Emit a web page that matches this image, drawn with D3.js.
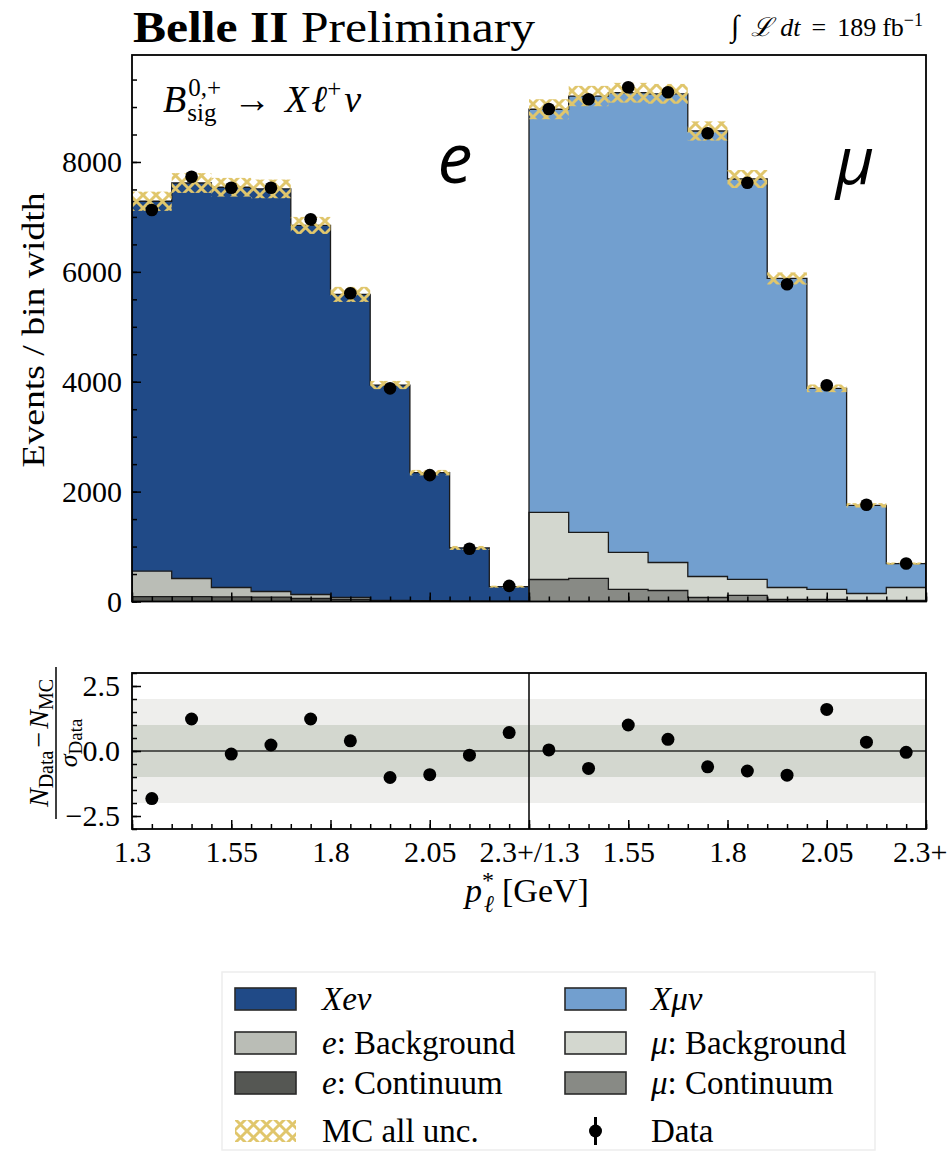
<!DOCTYPE html>
<html><head><meta charset="utf-8">
<script src="https://cdn.jsdelivr.net/npm/d3@7"></script>
<style>
body{margin:0;background:#fff;}
svg{display:block;}
text{font-family:"Liberation Serif",serif;fill:#000;}
</style></head><body>
<svg id="chart" width="948" height="1153" font-family="Liberation Serif, serif"></svg>
<script>
// ---------------- data ----------------
const pMin = 1.3, binWidth = 0.1;
const binLowEdges = [1.3, 1.4, 1.5, 1.6, 1.7, 1.8, 1.9, 2.0, 2.1, 2.2];

const eContinuum  = [90, 88, 85, 80, 55, 40, 10, 6, 3, 1];
const eBackground = [462, 331, 170, 102, 72, 33, 12, 8, 4, 2];
const eSignal     = [6733, 7198, 7285, 7328, 6718, 5517, 3918, 2331, 968, 267];
const eUnc        = [175, 180, 170, 170, 155, 137, 75, 50, 36, 18];
const eData       = [7126, 7730, 7530, 7530, 6957, 5610, 3880, 2300, 960, 285];
const ePull       = [-1.83, 1.23, -0.12, 0.23, 1.23, 0.39, -1.02, -0.91, -0.16, 0.71];

const muContinuum  = [400, 420, 220, 200, 73, 110, 36, 36, 18, 18];
const muBackground = [1221, 837, 673, 510, 382, 291, 219, 183, 128, 237];
const muSignal     = [7339, 7943, 8367, 8530, 8109, 7289, 5625, 3661, 1604, 435];
const muUnc        = [182, 185, 180, 180, 175, 164, 110, 70, 40, 20];
const muData       = [8965, 9141, 9360, 9268, 8522, 7623, 5775, 3935, 1760, 692];
const muPull       = [0.04, -0.67, 1.0, 0.45, -0.61, -0.77, -0.93, 1.6, 0.34, -0.05];

const yMajorTicks = [0, 2000, 4000, 6000, 8000];
const yMinorTicks = d3.range(0, 9501, 500);
const pullMajorTicks = [-2.5, 0, 2.5];
const pullMinorTicks = d3.range(-3, 3.01, 0.5);
const xMajorTicks = [0, 2.5, 5, 7.5, 10, 12.5, 15, 17.5, 20];   // in bin units
const xTickLabels = ["1.3", "1.55", "1.8", "2.05", "2.3+/1.3", "1.55", "1.8", "2.05", "2.3+"];
const xMinorTicks = d3.range(0, 20.01, 0.5);

const colors = {
  eCont: "#555753", eBkg: "#babdb6", eSig: "#204a87",
  muCont: "#888a85", muBkg: "#d3d7cf", muSig: "#729fcf",
  hatch: "#e0c66c", band1: "#d3d7cf", band2: "#eeeeec"
};

// ---------------- layout ----------------
const SERIF = '"Liberation Serif", serif';
const L = 132, R = 926, T = 55, B = 601.5;
const RT = 673, RB = 829;
const nBins = binLowEdges.length;

const svg = d3.select("#chart");
const xs = d3.scaleLinear().domain([0, 2 * nBins]).range([L, R]);
const ys = d3.scaleLinear().domain([0, 9947]).range([B, T]);
const yr = d3.scaleLinear().domain([-3, 3]).range([RB, RT]);

const defs = svg.append("defs");
const pat = defs.append("pattern").attr("id", "hatch")
  .attr("patternUnits", "userSpaceOnUse").attr("width", 13).attr("height", 13);
pat.append("path").attr("d", "M0,0L13,13M13,0L0,13")
  .attr("stroke", colors.hatch).attr("stroke-width", 2.9).attr("stroke-linecap", "square");
defs.append("clipPath").attr("id", "mainClip").append("rect")
  .attr("x", L).attr("y", T).attr("width", R - L).attr("height", B - T);

const channels = [
  { layers: [eContinuum, eBackground, eSignal], fills: [colors.eCont, colors.eBkg, colors.eSig],
    unc: eUnc, data: eData, pull: ePull },
  { layers: [muContinuum, muBackground, muSignal], fills: [colors.muCont, colors.muBkg, colors.muSig],
    unc: muUnc, data: muData, pull: muPull }
];

const binU = (h, i) => h * nBins + Math.round((binLowEdges[i] - pMin) / binWidth);

const gMain = svg.append("g").attr("clip-path", "url(#mainClip)");

function stepTop(h, vals) {
  let d = "";
  vals.forEach((v, i) => {
    d += (i === 0 ? `M${xs(binU(h, i))},${ys(v)}` : `V${ys(v)}`) + `H${xs(binU(h, i) + 1)}`;
  });
  return d;
}
function stepBottomReverse(h, vals) {
  let d = "";
  for (let i = vals.length - 1; i >= 0; i--) {
    d += `V${ys(vals[i])}H${xs(binU(h, i))}`;
  }
  return d;
}

channels.forEach((ch, h) => {
  let cum = binLowEdges.map(() => 0);
  const stacks = ch.layers.map(vals => {
    const lo = cum.slice();
    cum = cum.map((c, i) => c + vals[i]);
    return { lo, hi: cum.slice() };
  });
  const total = cum;
  stacks.forEach((s, k) => {
    gMain.append("path").attr("d", stepTop(h, s.hi) + stepBottomReverse(h, s.lo) + "Z")
      .attr("fill", ch.fills[k]).attr("stroke", "none");
  });
  stacks.forEach(s => {
    const d = `M${xs(binU(h, 0))},${ys(0)}` + stepTop(h, s.hi).replace(/^M[^,]+,/, "V") + `V${ys(0)}`;
    gMain.append("path").attr("d", d).attr("fill", "none")
      .attr("stroke", "#1a1a1a").attr("stroke-width", 1.3);
  });
  gMain.append("g").selectAll("rect").data(binLowEdges).join("rect")
    .attr("x", (d, i) => xs(binU(h, i)))
    .attr("width", (d, i) => xs(binU(h, i) + 1) - xs(binU(h, i)))
    .attr("y", (d, i) => ys(total[i] + ch.unc[i]))
    .attr("height", (d, i) => ys(total[i] - ch.unc[i]) - ys(total[i] + ch.unc[i]))
    .attr("fill", "url(#hatch)");
  svg.append("g").selectAll("circle").data(ch.data).join("circle")
    .attr("cx", (d, i) => xs(binU(h, i) + 0.5))
    .attr("cy", d => ys(d)).attr("r", 6.3).attr("fill", "#000");
});

// ---------------- pull panel ----------------
svg.append("rect").attr("x", L).attr("width", R - L)
  .attr("y", yr(2)).attr("height", yr(-2) - yr(2)).attr("fill", colors.band2);
svg.append("rect").attr("x", L).attr("width", R - L)
  .attr("y", yr(1)).attr("height", yr(-1) - yr(1)).attr("fill", colors.band1);
svg.append("line").attr("x1", L).attr("x2", R).attr("y1", yr(0)).attr("y2", yr(0))
  .attr("stroke", "#555753").attr("stroke-width", 2.2);
svg.append("line").attr("x1", xs(nBins)).attr("x2", xs(nBins)).attr("y1", RT).attr("y2", RB)
  .attr("stroke", "#111").attr("stroke-width", 1.6);
channels.forEach((ch, h) => {
  svg.append("g").selectAll("circle").data(ch.pull).join("circle")
    .attr("cx", (d, i) => xs(binU(h, i) + 0.5))
    .attr("cy", d => yr(d)).attr("r", 6.5).attr("fill", "#000");
});

// ---------------- axes ----------------
function styleAxis(g, fs) {
  g.attr("font-family", SERIF);
  g.select(".domain").remove();
  g.selectAll(".tick line").attr("stroke", "#000").attr("stroke-width", 1.5);
  g.selectAll("text").attr("font-size", fs).attr("fill", "#000").attr("font-family", SERIF);
  return g;
}
styleAxis(svg.append("g").attr("transform", `translate(${L},0)`)
  .call(d3.axisLeft(ys).tickValues(yMinorTicks).tickSize(-5).tickFormat("")), 30);
styleAxis(svg.append("g").attr("transform", `translate(${L},0)`)
  .call(d3.axisLeft(ys).tickValues(yMajorTicks).tickSize(-9).tickPadding(10).tickFormat(d3.format("d"))), 30);
styleAxis(svg.append("g").attr("transform", `translate(0,${B})`)
  .call(d3.axisBottom(xs).tickValues(xMinorTicks).tickSize(-5).tickFormat("")), 30);
styleAxis(svg.append("g").attr("transform", `translate(0,${B})`)
  .call(d3.axisBottom(xs).tickValues(xMajorTicks).tickSize(-9).tickFormat("")), 30);
styleAxis(svg.append("g").attr("transform", `translate(${L},0)`)
  .call(d3.axisLeft(yr).tickValues(pullMinorTicks).tickSize(-5).tickFormat("")), 30);
styleAxis(svg.append("g").attr("transform", `translate(${L},0)`)
  .call(d3.axisLeft(yr).tickValues(pullMajorTicks).tickSize(-9).tickPadding(12).tickFormat(d3.format(".1f"))), 30);
styleAxis(svg.append("g").attr("transform", `translate(0,${RB})`)
  .call(d3.axisBottom(xs).tickValues(xMinorTicks).tickSize(-5).tickFormat("")), 30);
const gxb = styleAxis(svg.append("g").attr("transform", `translate(0,${RB})`)
  .call(d3.axisBottom(xs).tickValues(xMajorTicks).tickSize(-9).tickPadding(12)
    .tickFormat((d, i) => xTickLabels[i])), 30);
gxb.selectAll(".tick text").filter((d, i, n) => i === n.length - 1)
  .attr("text-anchor", "end").attr("x", 947 - xs(2 * nBins));

// frames
svg.append("rect").attr("x", L).attr("y", T).attr("width", R - L).attr("height", B - T)
  .attr("fill", "none").attr("stroke", "#000").attr("stroke-width", 1.8);
svg.append("rect").attr("x", L).attr("y", RT).attr("width", R - L).attr("height", RB - RT)
  .attr("fill", "none").attr("stroke", "#000").attr("stroke-width", 1.8);

// ---------------- texts ----------------
const title = svg.append("text").attr("x", 133).attr("y", 42).attr("font-size", 44)
  .attr("textLength", 402).attr("lengthAdjust", "spacingAndGlyphs");
title.append("tspan").attr("font-weight", "bold").text("Belle II");
title.append("tspan").text(" Preliminary");

const lumi = svg.append("text").attr("x", 923).attr("y", 36).attr("font-size", 26).attr("text-anchor", "end");
lumi.append("tspan").attr("font-size", 30).text("∫");
lumi.append("tspan").attr("font-style", "italic").attr("dx", 12).text("ℒ");
lumi.append("tspan").attr("font-style", "italic").attr("dx", 7).text("dt");
lumi.append("tspan").attr("dx", 11).text("=");
lumi.append("tspan").attr("dx", 11).text("189");
lumi.append("tspan").attr("dx", 6).text("fb");
lumi.append("tspan").attr("font-size", 18).attr("dy", -10).text("−1");

// decay label
const bx = 163, by = 112;
const bT = svg.append("text").attr("x", bx).attr("y", by).attr("font-size", 38).attr("font-style", "italic").text("B");
const bw = bT.node().getComputedTextLength();
const sup = svg.append("text").attr("x", bx + bw + 2).attr("y", by - 16).attr("font-size", 25).text("0,+");
const sub = svg.append("text").attr("x", bx + bw + 1).attr("y", by + 9).attr("font-size", 25).text("sig");
const sw = Math.max(sup.node().getComputedTextLength(), sub.node().getComputedTextLength());
const dec = svg.append("text").attr("x", bx + bw + sw + 14).attr("y", by).attr("font-size", 38);
dec.append("tspan").text("→");
dec.append("tspan").attr("font-style", "italic").attr("dx", 14).text("X");
dec.append("tspan").attr("font-style", "italic").attr("dx", 3).text("ℓ");
dec.append("tspan").attr("font-size", 25).attr("dy", -15).text("+");
dec.append("tspan").attr("font-style", "italic").attr("dx", 3).attr("dy", 15).text("ν");

// channel labels
svg.append("text").attr("x", 455).attr("y", 183).attr("text-anchor", "middle")
  .attr("font-family", '"Open Sans", "Noto Sans", sans-serif').style("font-family", '"Open Sans", "Noto Sans", sans-serif')
  .attr("font-style", "italic").attr("font-size", 70).text("e");
svg.append("text").attr("x", 855).attr("y", 184).attr("text-anchor", "middle")
  .attr("font-family", '"Open Sans", "Noto Sans", sans-serif').style("font-family", '"Open Sans", "Noto Sans", sans-serif')
  .attr("font-style", "italic").attr("font-size", 66).text("μ");

// y label main
svg.append("text").attr("transform", "translate(44,330) rotate(-90)").attr("text-anchor", "middle")
  .attr("font-size", 32).attr("textLength", 275).attr("lengthAdjust", "spacingAndGlyphs")
  .text("Events / bin width");

// pull y label (fraction)
const fr = svg.append("g").attr("transform", "translate(56,743) rotate(-90)");
const num = fr.append("text").attr("x", 0).attr("y", -8).attr("text-anchor", "middle").attr("font-size", 28);
num.append("tspan").attr("font-style", "italic").text("N");
num.append("tspan").attr("font-size", 20).attr("dy", 5).text("Data");
num.append("tspan").attr("dy", -5).attr("dx", 3).text("−");
num.append("tspan").attr("font-style", "italic").attr("dx", 3).text("N");
num.append("tspan").attr("font-size", 20).attr("dy", 5).text("MC");
fr.append("line").attr("x1", -76).attr("x2", 76).attr("y1", 0).attr("y2", 0)
  .attr("stroke", "#000").attr("stroke-width", 1.5);
const den = fr.append("text").attr("x", 0).attr("y", 21).attr("text-anchor", "middle").attr("font-size", 26);
den.append("tspan").attr("font-style", "italic").text("σ");
den.append("tspan").attr("font-size", 19).attr("dy", 5).text("Data");

// x label
const xl = svg.append("text").attr("x", 465).attr("y", 902).attr("font-size", 34);
xl.append("tspan").attr("font-style", "italic").text("p");
xl.append("tspan").attr("font-size", 24).attr("dy", -14).text("*");
xl.append("tspan").attr("font-size", 24).attr("font-style", "italic").attr("dx", -10).attr("dy", 24).text("ℓ");
xl.append("tspan").attr("dy", -10).attr("dx", 8).text("[GeV]");

// ---------------- legend ----------------
const legendItems = [
  { col: 0, row: 0, kind: "rect", fill: colors.eSig, parts: [["Xeν", true]] },
  { col: 0, row: 1, kind: "rect", fill: colors.eBkg, parts: [["e", true], [": Background", false]] },
  { col: 0, row: 2, kind: "rect", fill: colors.eCont, parts: [["e", true], [": Continuum", false]] },
  { col: 0, row: 3, kind: "hatch", parts: [["MC all unc.", false]] },
  { col: 1, row: 0, kind: "rect", fill: colors.muSig, parts: [["Xμν", true]] },
  { col: 1, row: 1, kind: "rect", fill: colors.muBkg, parts: [["μ", true], [": Background", false]] },
  { col: 1, row: 2, kind: "rect", fill: colors.muCont, parts: [["μ", true], [": Continuum", false]] },
  { col: 1, row: 3, kind: "data", parts: [["Data", false]] }
];
const legSwX = [235, 565], legSwW = 61, legSwH = 22, legTxtX = [322, 651];
const legRowY = [999, 1043, 1083, 1131];
svg.append("rect").attr("x", 222).attr("y", 972).attr("width", 653).attr("height", 178)
  .attr("fill", "none").attr("stroke", "#ededed").attr("stroke-width", 1.5);
legendItems.forEach(it => {
  const cy = legRowY[it.row], x0 = legSwX[it.col];
  if (it.kind === "rect") {
    svg.append("rect").attr("x", x0).attr("y", cy - legSwH / 2).attr("width", legSwW).attr("height", legSwH)
      .attr("fill", it.fill).attr("stroke", "#2a2a2a").attr("stroke-width", 1.6);
  } else if (it.kind === "hatch") {
    svg.append("rect").attr("x", x0).attr("y", cy - legSwH / 2).attr("width", legSwW).attr("height", legSwH)
      .attr("fill", "url(#hatch)");
  } else {
    svg.append("line").attr("x1", x0 + legSwW / 2).attr("x2", x0 + legSwW / 2)
      .attr("y1", cy - 14).attr("y2", cy + 14).attr("stroke", "#000").attr("stroke-width", 3);
    svg.append("circle").attr("cx", x0 + legSwW / 2).attr("cy", cy).attr("r", 6.5).attr("fill", "#000");
  }
  const t = svg.append("text").attr("x", legTxtX[it.col]).attr("y", cy + 11).attr("font-size", 33)
    .attr("font-family", SERIF);
  it.parts.forEach(p => t.append("tspan").attr("font-style", p[1] ? "italic" : "normal").text(p[0]));
});
</script>
</body></html>
